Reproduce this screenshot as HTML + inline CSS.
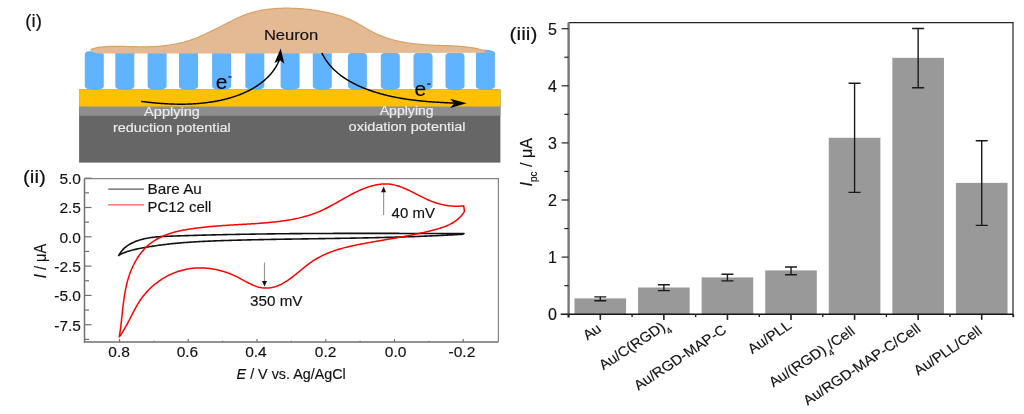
<!DOCTYPE html>
<html><head><meta charset="utf-8"><style>
html,body{margin:0;padding:0;background:#fff;width:1024px;height:414px;overflow:hidden}
svg{display:block;will-change:transform}
text{font-family:"Liberation Sans", sans-serif;stroke-width:0.15px}
</style></head><body>
<svg width="1024" height="414" viewBox="0 0 1024 414">
<rect x="79.1" y="89.6" width="421.3" height="73.0" fill="#666666"/>
<rect x="79.1" y="89.6" width="421.3" height="26.1" fill="#8e8e8e"/>
<rect x="79.1" y="89.6" width="421.3" height="16.9" fill="#ffc000"/>
<path d="M84.8,55.3 A4.0,4.0 0 0 1 88.8,51.3 L99.8,51.3 A4.0,4.0 0 0 1 103.8,55.3 L103.8,86.6 A9.5,3.3 0 0 1 84.8,86.6 Z" fill="#60b4ff"/>
<path d="M115.3,50.01 A0.01,0.01 0 0 1 115.31,50.0 L134.29000000000002,50.0 A0.01,0.01 0 0 1 134.3,50.01 L134.3,86.6 A9.5,3.3 0 0 1 115.3,86.6 Z" fill="#60b4ff"/>
<path d="M147.6,50.01 A0.01,0.01 0 0 1 147.60999999999999,50.0 L166.59,50.0 A0.01,0.01 0 0 1 166.6,50.01 L166.6,86.6 A9.5,3.3 0 0 1 147.6,86.6 Z" fill="#60b4ff"/>
<path d="M179,50.01 A0.01,0.01 0 0 1 179.01,50.0 L197.99,50.0 A0.01,0.01 0 0 1 198,50.01 L198,86.6 A9.5,3.3 0 0 1 179,86.6 Z" fill="#60b4ff"/>
<path d="M212.1,50.01 A0.01,0.01 0 0 1 212.10999999999999,50.0 L231.09,50.0 A0.01,0.01 0 0 1 231.1,50.01 L231.1,86.6 A9.5,3.3 0 0 1 212.1,86.6 Z" fill="#60b4ff"/>
<path d="M245.3,50.01 A0.01,0.01 0 0 1 245.31,50.0 L264.29,50.0 A0.01,0.01 0 0 1 264.3,50.01 L264.3,86.6 A9.5,3.3 0 0 1 245.3,86.6 Z" fill="#60b4ff"/>
<path d="M280.6,50.01 A0.01,0.01 0 0 1 280.61,50.0 L299.59000000000003,50.0 A0.01,0.01 0 0 1 299.6,50.01 L299.6,86.6 A9.5,3.3 0 0 1 280.6,86.6 Z" fill="#60b4ff"/>
<path d="M312.8,50.01 A0.01,0.01 0 0 1 312.81,50.0 L331.79,50.0 A0.01,0.01 0 0 1 331.8,50.01 L331.8,86.6 A9.5,3.3 0 0 1 312.8,86.6 Z" fill="#60b4ff"/>
<path d="M347.9,56.4 A3.5,3.5 0 0 1 351.4,52.9 L363.4,52.9 A3.5,3.5 0 0 1 366.9,56.4 L366.9,86.6 A9.5,3.3 0 0 1 347.9,86.6 Z" fill="#60b4ff"/>
<path d="M380.8,56.4 A3.5,3.5 0 0 1 384.3,52.9 L396.3,52.9 A3.5,3.5 0 0 1 399.8,56.4 L399.8,86.6 A9.5,3.3 0 0 1 380.8,86.6 Z" fill="#60b4ff"/>
<path d="M413.5,56.4 A3.5,3.5 0 0 1 417.0,52.9 L429.0,52.9 A3.5,3.5 0 0 1 432.5,56.4 L432.5,86.6 A9.5,3.3 0 0 1 413.5,86.6 Z" fill="#60b4ff"/>
<path d="M445.5,56.4 A3.5,3.5 0 0 1 449.0,52.9 L461.0,52.9 A3.5,3.5 0 0 1 464.5,56.4 L464.5,86.6 A9.5,3.3 0 0 1 445.5,86.6 Z" fill="#60b4ff"/>
<path d="M475.9,52.8 A9.5,3 0 0 1 494.9,52.8 L494.9,86.6 A9.5,3.3 0 0 1 475.9,86.6 Z" fill="#60b4ff"/>
<path d="M90.51,49.91 L91.76,49.34 L93.04,48.84 L94.33,48.40 L95.63,48.02 L96.95,47.70 L98.28,47.43 L99.62,47.21 L100.97,47.02 L102.32,46.87 L103.68,46.75 L105.05,46.65 L106.42,46.58 L107.79,46.52 L109.16,46.47 L110.54,46.43 L111.91,46.40 L113.28,46.38 L114.66,46.37 L116.03,46.36 L117.41,46.36 L118.79,46.37 L120.17,46.38 L121.54,46.40 L122.92,46.42 L124.30,46.45 L125.68,46.48 L127.06,46.51 L128.44,46.54 L129.82,46.57 L131.20,46.60 L132.58,46.63 L133.96,46.66 L135.34,46.69 L136.73,46.72 L138.11,46.74 L139.49,46.76 L140.87,46.77 L142.25,46.78 L143.64,46.78 L145.02,46.78 L146.40,46.77 L147.78,46.75 L149.16,46.72 L150.54,46.68 L151.93,46.64 L153.31,46.58 L154.69,46.51 L156.07,46.43 L157.45,46.34 L158.83,46.23 L160.21,46.12 L161.58,45.99 L162.96,45.85 L164.33,45.70 L165.70,45.54 L167.07,45.36 L168.44,45.17 L169.81,44.97 L171.17,44.76 L172.53,44.53 L173.89,44.29 L175.24,44.03 L176.59,43.76 L177.94,43.48 L179.28,43.19 L180.62,42.87 L181.96,42.55 L183.29,42.21 L184.61,41.85 L185.93,41.48 L187.25,41.10 L188.56,40.70 L189.87,40.28 L191.17,39.85 L192.47,39.41 L193.76,38.94 L195.04,38.46 L196.32,37.97 L197.59,37.46 L198.86,36.93 L200.12,36.39 L201.37,35.83 L202.62,35.27 L203.87,34.69 L205.11,34.10 L206.35,33.51 L207.59,32.91 L208.82,32.31 L210.06,31.71 L211.29,31.11 L212.53,30.50 L213.76,29.90 L215.00,29.30 L216.23,28.70 L217.47,28.09 L218.71,27.49 L219.94,26.88 L221.18,26.27 L222.41,25.65 L223.65,25.02 L224.88,24.39 L226.12,23.76 L227.35,23.12 L228.59,22.48 L229.83,21.85 L231.07,21.21 L232.31,20.58 L233.55,19.95 L234.80,19.34 L236.05,18.73 L237.30,18.13 L238.56,17.54 L239.82,16.97 L241.08,16.42 L242.35,15.88 L243.63,15.36 L244.91,14.86 L246.20,14.38 L247.49,13.92 L248.79,13.49 L250.09,13.07 L251.40,12.67 L252.72,12.30 L254.04,11.94 L255.36,11.60 L256.69,11.28 L258.02,10.98 L259.36,10.70 L260.70,10.43 L262.04,10.18 L263.39,9.95 L264.74,9.74 L266.10,9.54 L267.45,9.35 L268.81,9.18 L270.18,9.03 L271.54,8.89 L272.91,8.76 L274.28,8.65 L275.65,8.55 L277.03,8.47 L278.40,8.39 L279.78,8.33 L281.16,8.28 L282.54,8.25 L283.92,8.22 L285.30,8.20 L286.68,8.20 L288.06,8.20 L289.45,8.22 L290.83,8.24 L292.21,8.28 L293.59,8.32 L294.98,8.38 L296.36,8.44 L297.74,8.52 L299.12,8.60 L300.50,8.69 L301.88,8.80 L303.26,8.91 L304.64,9.03 L306.02,9.17 L307.39,9.31 L308.77,9.46 L310.14,9.63 L311.51,9.80 L312.88,9.98 L314.25,10.18 L315.62,10.38 L316.98,10.59 L318.34,10.81 L319.70,11.05 L321.06,11.29 L322.42,11.54 L323.77,11.80 L325.12,12.07 L326.47,12.36 L327.81,12.65 L329.15,12.95 L330.49,13.26 L331.83,13.58 L333.16,13.91 L334.49,14.26 L335.81,14.61 L337.13,14.98 L338.44,15.37 L339.75,15.77 L341.06,16.18 L342.35,16.61 L343.65,17.06 L344.93,17.52 L346.21,18.01 L347.48,18.52 L348.74,19.04 L350.00,19.59 L351.25,20.16 L352.48,20.75 L353.71,21.37 L354.94,22.00 L356.16,22.65 L357.37,23.32 L358.57,24.00 L359.78,24.69 L360.98,25.38 L362.18,26.08 L363.38,26.79 L364.57,27.49 L365.77,28.20 L366.97,28.90 L368.18,29.59 L369.39,30.27 L370.60,30.94 L371.81,31.59 L373.04,32.23 L374.27,32.85 L375.51,33.46 L376.75,34.04 L378.00,34.60 L379.26,35.14 L380.53,35.67 L381.80,36.17 L383.08,36.66 L384.36,37.13 L385.65,37.59 L386.95,38.03 L388.25,38.45 L389.56,38.85 L390.87,39.24 L392.19,39.62 L393.51,39.97 L394.84,40.32 L396.17,40.65 L397.51,40.96 L398.85,41.26 L400.20,41.55 L401.54,41.82 L402.90,42.08 L404.25,42.33 L405.61,42.57 L406.97,42.79 L408.34,43.00 L409.71,43.20 L411.08,43.39 L412.45,43.57 L413.82,43.74 L415.20,43.90 L416.58,44.05 L417.96,44.19 L419.34,44.32 L420.72,44.44 L422.11,44.56 L423.49,44.66 L424.88,44.76 L426.26,44.85 L427.65,44.93 L429.04,45.01 L430.42,45.08 L431.81,45.15 L433.20,45.20 L434.58,45.26 L435.97,45.31 L437.36,45.36 L438.74,45.40 L440.13,45.45 L441.51,45.49 L442.89,45.53 L444.27,45.57 L445.66,45.62 L447.04,45.67 L448.42,45.72 L449.79,45.77 L451.17,45.83 L452.55,45.89 L453.92,45.96 L455.29,46.03 L456.67,46.11 L458.03,46.20 L459.40,46.30 L460.77,46.41 L462.13,46.53 L463.50,46.66 L464.86,46.80 L466.21,46.95 L467.57,47.12 L468.92,47.30 L470.28,47.49 L471.63,47.70 L472.97,47.93 L474.32,48.17 L475.66,48.43 L477.00,48.71 L478.33,49.01 L479.65,49.35 L480.97,49.71 L482.28,50.11 L483.58,50.55 L484.86,51.02 L486.13,51.55 L487.39,52.13 C480,52.8 475,52.8 470,52.8 L335,52.9 L330,53.4 L100,53.5 C95,53.5 92,52 90.6,50.2 Z" fill="#e3ba93"/>
<path d="M90.51,49.91 L91.76,49.34 L93.04,48.84 L94.33,48.40 L95.63,48.02 L96.95,47.70 L98.28,47.43 L99.62,47.21 L100.97,47.02 L102.32,46.87 L103.68,46.75 L105.05,46.65 L106.42,46.58 L107.79,46.52 L109.16,46.47 L110.54,46.43 L111.91,46.40 L113.28,46.38 L114.66,46.37 L116.03,46.36 L117.41,46.36 L118.79,46.37 L120.17,46.38 L121.54,46.40 L122.92,46.42 L124.30,46.45 L125.68,46.48 L127.06,46.51 L128.44,46.54 L129.82,46.57 L131.20,46.60 L132.58,46.63 L133.96,46.66 L135.34,46.69 L136.73,46.72 L138.11,46.74 L139.49,46.76 L140.87,46.77 L142.25,46.78 L143.64,46.78 L145.02,46.78 L146.40,46.77 L147.78,46.75 L149.16,46.72 L150.54,46.68 L151.93,46.64 L153.31,46.58 L154.69,46.51 L156.07,46.43 L157.45,46.34 L158.83,46.23 L160.21,46.12 L161.58,45.99 L162.96,45.85 L164.33,45.70 L165.70,45.54 L167.07,45.36 L168.44,45.17 L169.81,44.97 L171.17,44.76 L172.53,44.53 L173.89,44.29 L175.24,44.03 L176.59,43.76 L177.94,43.48 L179.28,43.19 L180.62,42.87 L181.96,42.55 L183.29,42.21 L184.61,41.85 L185.93,41.48 L187.25,41.10 L188.56,40.70 L189.87,40.28 L191.17,39.85 L192.47,39.41 L193.76,38.94 L195.04,38.46 L196.32,37.97 L197.59,37.46 L198.86,36.93 L200.12,36.39 L201.37,35.83 L202.62,35.27 L203.87,34.69 L205.11,34.10 L206.35,33.51 L207.59,32.91 L208.82,32.31 L210.06,31.71 L211.29,31.11 L212.53,30.50 L213.76,29.90 L215.00,29.30 L216.23,28.70 L217.47,28.09 L218.71,27.49 L219.94,26.88 L221.18,26.27 L222.41,25.65 L223.65,25.02 L224.88,24.39 L226.12,23.76 L227.35,23.12 L228.59,22.48 L229.83,21.85 L231.07,21.21 L232.31,20.58 L233.55,19.95 L234.80,19.34 L236.05,18.73 L237.30,18.13 L238.56,17.54 L239.82,16.97 L241.08,16.42 L242.35,15.88 L243.63,15.36 L244.91,14.86 L246.20,14.38 L247.49,13.92 L248.79,13.49 L250.09,13.07 L251.40,12.67 L252.72,12.30 L254.04,11.94 L255.36,11.60 L256.69,11.28 L258.02,10.98 L259.36,10.70 L260.70,10.43 L262.04,10.18 L263.39,9.95 L264.74,9.74 L266.10,9.54 L267.45,9.35 L268.81,9.18 L270.18,9.03 L271.54,8.89 L272.91,8.76 L274.28,8.65 L275.65,8.55 L277.03,8.47 L278.40,8.39 L279.78,8.33 L281.16,8.28 L282.54,8.25 L283.92,8.22 L285.30,8.20 L286.68,8.20 L288.06,8.20 L289.45,8.22 L290.83,8.24 L292.21,8.28 L293.59,8.32 L294.98,8.38 L296.36,8.44 L297.74,8.52 L299.12,8.60 L300.50,8.69 L301.88,8.80 L303.26,8.91 L304.64,9.03 L306.02,9.17 L307.39,9.31 L308.77,9.46 L310.14,9.63 L311.51,9.80 L312.88,9.98 L314.25,10.18 L315.62,10.38 L316.98,10.59 L318.34,10.81 L319.70,11.05 L321.06,11.29 L322.42,11.54 L323.77,11.80 L325.12,12.07 L326.47,12.36 L327.81,12.65 L329.15,12.95 L330.49,13.26 L331.83,13.58 L333.16,13.91 L334.49,14.26 L335.81,14.61 L337.13,14.98 L338.44,15.37 L339.75,15.77 L341.06,16.18 L342.35,16.61 L343.65,17.06 L344.93,17.52 L346.21,18.01 L347.48,18.52 L348.74,19.04 L350.00,19.59 L351.25,20.16 L352.48,20.75 L353.71,21.37 L354.94,22.00 L356.16,22.65 L357.37,23.32 L358.57,24.00 L359.78,24.69 L360.98,25.38 L362.18,26.08 L363.38,26.79 L364.57,27.49 L365.77,28.20 L366.97,28.90 L368.18,29.59 L369.39,30.27 L370.60,30.94 L371.81,31.59 L373.04,32.23 L374.27,32.85 L375.51,33.46 L376.75,34.04 L378.00,34.60 L379.26,35.14 L380.53,35.67 L381.80,36.17 L383.08,36.66 L384.36,37.13 L385.65,37.59 L386.95,38.03 L388.25,38.45 L389.56,38.85 L390.87,39.24 L392.19,39.62 L393.51,39.97 L394.84,40.32 L396.17,40.65 L397.51,40.96 L398.85,41.26 L400.20,41.55 L401.54,41.82 L402.90,42.08 L404.25,42.33 L405.61,42.57 L406.97,42.79 L408.34,43.00 L409.71,43.20 L411.08,43.39 L412.45,43.57 L413.82,43.74 L415.20,43.90 L416.58,44.05 L417.96,44.19 L419.34,44.32 L420.72,44.44 L422.11,44.56 L423.49,44.66 L424.88,44.76 L426.26,44.85 L427.65,44.93 L429.04,45.01 L430.42,45.08 L431.81,45.15 L433.20,45.20 L434.58,45.26 L435.97,45.31 L437.36,45.36 L438.74,45.40 L440.13,45.45 L441.51,45.49 L442.89,45.53 L444.27,45.57 L445.66,45.62 L447.04,45.67 L448.42,45.72 L449.79,45.77 L451.17,45.83 L452.55,45.89 L453.92,45.96 L455.29,46.03 L456.67,46.11 L458.03,46.20 L459.40,46.30 L460.77,46.41 L462.13,46.53 L463.50,46.66 L464.86,46.80 L466.21,46.95 L467.57,47.12 L468.92,47.30 L470.28,47.49 L471.63,47.70 L472.97,47.93 L474.32,48.17 L475.66,48.43 L477.00,48.71 L478.33,49.01 L479.65,49.35 L480.97,49.71 L482.28,50.11 L483.58,50.55 L484.86,51.02 L486.13,51.55 L487.39,52.13" fill="none" stroke="#d9a166" stroke-width="1.2"/>
<path d="M141.21,101.41 L141.99,101.51 L142.77,101.61 L143.55,101.70 L144.34,101.80 L145.12,101.89 L145.91,101.98 L146.69,102.07 L147.48,102.16 L148.26,102.25 L149.05,102.34 L149.84,102.42 L150.62,102.50 L151.41,102.58 L152.20,102.66 L152.99,102.74 L153.78,102.82 L154.57,102.89 L155.36,102.96 L156.15,103.03 L156.94,103.10 L157.73,103.17 L158.52,103.24 L159.31,103.30 L160.11,103.36 L160.90,103.42 L161.69,103.48 L162.48,103.53 L163.28,103.59 L164.07,103.64 L164.86,103.69 L165.66,103.73 L166.45,103.78 L167.25,103.82 L168.04,103.86 L168.84,103.90 L169.63,103.94 L170.42,103.97 L171.22,104.00 L172.02,104.03 L172.81,104.06 L173.61,104.08 L174.40,104.10 L175.20,104.12 L175.99,104.14 L176.79,104.15 L177.58,104.17 L178.38,104.18 L179.17,104.18 L179.97,104.19 L180.77,104.19 L181.56,104.19 L182.36,104.19 L183.15,104.18 L183.95,104.17 L184.74,104.16 L185.54,104.14 L186.33,104.13 L187.13,104.11 L187.92,104.08 L188.72,104.06 L189.51,104.03 L190.31,104.00 L191.10,103.96 L191.89,103.92 L192.69,103.88 L193.48,103.84 L194.27,103.79 L195.07,103.74 L195.86,103.69 L196.65,103.63 L197.44,103.57 L198.23,103.51 L199.03,103.45 L199.82,103.38 L200.61,103.30 L201.40,103.23 L202.19,103.15 L202.98,103.07 L203.77,102.98 L204.55,102.89 L205.34,102.80 L206.13,102.70 L206.92,102.60 L207.71,102.50 L208.49,102.39 L209.28,102.28 L210.06,102.17 L210.85,102.05 L211.63,101.93 L212.42,101.80 L213.20,101.67 L213.98,101.54 L214.76,101.41 L215.54,101.27 L216.33,101.12 L217.11,100.97 L217.88,100.82 L218.66,100.67 L219.44,100.51 L220.22,100.34 L221.00,100.18 L221.77,100.00 L222.55,99.83 L223.32,99.65 L224.10,99.46 L224.87,99.28 L225.64,99.08 L226.41,98.89 L227.18,98.69 L227.95,98.48 L228.72,98.27 L229.48,98.05 L230.25,97.83 L231.01,97.61 L231.77,97.38 L232.53,97.15 L233.29,96.91 L234.04,96.66 L234.80,96.41 L235.55,96.16 L236.30,95.90 L237.05,95.64 L237.80,95.37 L238.55,95.09 L239.29,94.81 L240.03,94.52 L240.77,94.23 L241.51,93.93 L242.24,93.63 L242.97,93.32 L243.70,93.01 L244.43,92.69 L245.15,92.36 L245.88,92.03 L246.60,91.69 L247.31,91.35 L248.03,91.00 L248.74,90.64 L249.45,90.28 L250.15,89.91 L250.85,89.53 L251.55,89.15 L252.25,88.76 L252.94,88.37 L253.63,87.96 L254.32,87.56 L255.00,87.14 L255.67,86.72 L256.35,86.29 L257.02,85.86 L257.68,85.42 L258.34,84.97 L258.99,84.51 L259.64,84.05 L260.29,83.58 L260.92,83.11 L261.56,82.63 L262.18,82.14 L262.80,81.65 L263.42,81.14 L264.03,80.63 L264.63,80.12 L265.22,79.60 L265.81,79.07 L266.39,78.53 L266.96,77.99 L267.53,77.44 L268.09,76.88 L268.64,76.32 L269.18,75.74 L269.71,75.17 L270.24,74.58 L270.75,73.99 L271.26,73.39 L271.76,72.78 L272.25,72.17 L272.73,71.54 L273.21,70.92 L273.67,70.28 L274.12,69.64 L274.56,68.99 L274.99,68.33 L275.42,67.66 L275.83,66.99 L276.23,66.31 L276.62,65.62 L277.00,64.93 L277.36,64.23 L277.72,63.52 L278.06,62.80 L278.40,62.08 L278.72,61.34 L279.03,60.60 L279.32,59.86 L279.61,59.10 L279.88,58.34 L280.14,57.57 L280.38,56.79 L280.62,56.01" fill="none" stroke="#000" stroke-width="1.45"/>
<path d="M280.7,48.4 L284.4,63.7 L280,60.2 L274.5,62.9 Z" fill="#000"/>
<path d="M321.86,52.95 L322.21,53.66 L322.56,54.36 L322.92,55.05 L323.29,55.73 L323.67,56.40 L324.06,57.07 L324.46,57.73 L324.86,58.38 L325.27,59.03 L325.69,59.67 L326.11,60.30 L326.54,60.93 L326.98,61.55 L327.43,62.16 L327.88,62.76 L328.35,63.36 L328.81,63.95 L329.29,64.53 L329.77,65.11 L330.26,65.68 L330.75,66.25 L331.25,66.81 L331.76,67.36 L332.27,67.90 L332.79,68.44 L333.32,68.97 L333.85,69.50 L334.38,70.02 L334.93,70.53 L335.48,71.04 L336.03,71.54 L336.59,72.04 L337.16,72.53 L337.73,73.01 L338.30,73.49 L338.88,73.96 L339.47,74.43 L340.06,74.89 L340.65,75.35 L341.25,75.80 L341.86,76.24 L342.47,76.68 L343.08,77.11 L343.70,77.54 L344.32,77.96 L344.95,78.38 L345.58,78.79 L346.22,79.20 L346.86,79.60 L347.50,79.99 L348.15,80.38 L348.80,80.77 L349.45,81.15 L350.11,81.53 L350.77,81.90 L351.43,82.26 L352.10,82.62 L352.77,82.98 L353.44,83.33 L354.12,83.68 L354.80,84.02 L355.48,84.36 L356.16,84.70 L356.85,85.02 L357.54,85.35 L358.23,85.67 L358.93,85.99 L359.62,86.30 L360.32,86.61 L361.02,86.91 L361.73,87.21 L362.43,87.50 L363.14,87.79 L363.84,88.08 L364.55,88.37 L365.26,88.65 L365.97,88.92 L366.69,89.19 L367.40,89.46 L368.12,89.73 L368.83,89.99 L369.55,90.24 L370.27,90.50 L370.99,90.75 L371.71,90.99 L372.43,91.24 L373.15,91.48 L373.88,91.71 L374.60,91.95 L375.33,92.18 L376.05,92.40 L376.78,92.63 L377.50,92.84 L378.23,93.06 L378.96,93.27 L379.69,93.48 L380.42,93.69 L381.15,93.89 L381.89,94.10 L382.62,94.29 L383.35,94.49 L384.09,94.68 L384.82,94.87 L385.56,95.05 L386.29,95.23 L387.03,95.41 L387.77,95.59 L388.51,95.76 L389.25,95.93 L389.99,96.10 L390.73,96.27 L391.47,96.43 L392.21,96.59 L392.95,96.75 L393.69,96.90 L394.44,97.05 L395.18,97.20 L395.93,97.35 L396.67,97.49 L397.42,97.63 L398.16,97.77 L398.91,97.91 L399.66,98.04 L400.40,98.17 L401.15,98.30 L401.90,98.43 L402.65,98.56 L403.40,98.68 L404.15,98.80 L404.90,98.92 L405.65,99.03 L406.40,99.14 L407.15,99.26 L407.90,99.36 L408.65,99.47 L409.41,99.58 L410.16,99.68 L410.91,99.78 L411.66,99.88 L412.42,99.97 L413.17,100.07 L413.92,100.16 L414.68,100.25 L415.43,100.34 L416.19,100.43 L416.94,100.52 L417.70,100.60 L418.45,100.68 L419.21,100.76 L419.96,100.84 L420.72,100.92 L421.48,100.99 L422.23,101.07 L422.99,101.14 L423.74,101.21 L424.50,101.28 L425.26,101.34 L426.01,101.41 L426.77,101.48 L427.53,101.54 L428.28,101.60 L429.04,101.66 L429.79,101.72 L430.55,101.78 L431.31,101.84 L432.06,101.89 L432.82,101.94 L433.58,102.00 L434.33,102.05 L435.09,102.10 L435.85,102.15 L436.60,102.20 L437.36,102.25 L438.11,102.29 L438.87,102.34 L439.62,102.38 L440.38,102.43 L441.14,102.47 L441.89,102.51 L442.65,102.55 L443.40,102.59 L444.15,102.63 L444.91,102.67 L445.66,102.71 L446.42,102.74 L447.17,102.78 L447.92,102.82 L448.68,102.85 L449.43,102.89 L450.18,102.92 L450.93,102.95 L451.68,102.99 L452.44,103.02 L453.19,103.05 L453.94,103.08 L454.69,103.11 L455.44,103.15 L456.19,103.18 L456.94,103.21" fill="none" stroke="#000" stroke-width="1.45"/>
<path d="M466.6,103.3 L450.2,108 L454.3,103.3 L450.2,98.7 Z" fill="#000"/>
<text x="25.3" y="27.2" font-size="18" text-anchor="start" fill="#111" stroke="#111" textLength="16.6" lengthAdjust="spacingAndGlyphs"  style="">(i)</text>
<text x="263.9" y="39.9" font-size="15" text-anchor="start" fill="#111" stroke="#111" textLength="54.4" lengthAdjust="spacingAndGlyphs"  style="">Neuron</text>
<text x="215.8" y="89.0" font-size="21" text-anchor="start" fill="#000" stroke="#000"  style="">e</text>
<rect x="228.4" y="76.4" width="3.3" height="1.1" fill="#000"/>
<text x="414.4" y="96.0" font-size="21" text-anchor="start" fill="#000" stroke="#000"  style="">e</text>
<rect x="427.2" y="83.5" width="3.3" height="1.1" fill="#000"/>
<text x="144.1" y="115.5" font-size="12.5" text-anchor="start" fill="#ececec" stroke="#ececec" textLength="55.8" lengthAdjust="spacingAndGlyphs"  style="">Applying</text>
<text x="113" y="132.2" font-size="12.5" text-anchor="start" fill="#ececec" stroke="#ececec" textLength="117.8" lengthAdjust="spacingAndGlyphs"  style="">reduction potential</text>
<text x="379.7" y="114.8" font-size="12.5" text-anchor="start" fill="#ececec" stroke="#ececec" textLength="54" lengthAdjust="spacingAndGlyphs"  style="">Applying</text>
<text x="348.6" y="131.4" font-size="12.5" text-anchor="start" fill="#ececec" stroke="#ececec" textLength="117" lengthAdjust="spacingAndGlyphs"  style="">oxidation potential</text>
<path d="M84.5,178.6 H498.4 V342.0" fill="none" stroke="#858585" stroke-width="1.2"/>
<path d="M84.5,178.6 V342.0 H498.4" fill="none" stroke="#707070" stroke-width="1.5"/>
<line x1="84.5" y1="178.20" x2="91.5" y2="178.20" stroke="#707070" stroke-width="1.2"/>
<text x="81.0" y="184.00" font-size="15.5" text-anchor="end" fill="#111" stroke="#111"  style="">5.0</text>
<line x1="84.5" y1="192.85" x2="89.0" y2="192.85" stroke="#707070" stroke-width="1.2"/>
<line x1="84.5" y1="207.50" x2="91.5" y2="207.50" stroke="#707070" stroke-width="1.2"/>
<text x="81.0" y="213.30" font-size="15.5" text-anchor="end" fill="#111" stroke="#111"  style="">2.5</text>
<line x1="84.5" y1="222.15" x2="89.0" y2="222.15" stroke="#707070" stroke-width="1.2"/>
<line x1="84.5" y1="236.80" x2="91.5" y2="236.80" stroke="#707070" stroke-width="1.2"/>
<text x="81.0" y="242.60" font-size="15.5" text-anchor="end" fill="#111" stroke="#111"  style="">0.0</text>
<line x1="84.5" y1="251.45" x2="89.0" y2="251.45" stroke="#707070" stroke-width="1.2"/>
<line x1="84.5" y1="266.10" x2="91.5" y2="266.10" stroke="#707070" stroke-width="1.2"/>
<text x="81.0" y="271.90" font-size="15.5" text-anchor="end" fill="#111" stroke="#111"  style="">-2.5</text>
<line x1="84.5" y1="280.75" x2="89.0" y2="280.75" stroke="#707070" stroke-width="1.2"/>
<line x1="84.5" y1="295.40" x2="91.5" y2="295.40" stroke="#707070" stroke-width="1.2"/>
<text x="81.0" y="301.20" font-size="15.5" text-anchor="end" fill="#111" stroke="#111"  style="">-5.0</text>
<line x1="84.5" y1="310.05" x2="89.0" y2="310.05" stroke="#707070" stroke-width="1.2"/>
<line x1="84.5" y1="324.70" x2="91.5" y2="324.70" stroke="#707070" stroke-width="1.2"/>
<text x="81.0" y="330.50" font-size="15.5" text-anchor="end" fill="#111" stroke="#111"  style="">-7.5</text>
<line x1="84.5" y1="339.35" x2="89.0" y2="339.35" stroke="#707070" stroke-width="1.2"/>
<line x1="119.54" y1="342.0" x2="119.54" y2="339.0" stroke="#707070" stroke-width="1.2"/>
<text x="119.14" y="356.6" font-size="15.5" text-anchor="middle" fill="#111" stroke="#111"  style="">0.8</text>
<line x1="153.91" y1="342.0" x2="153.91" y2="340.7" stroke="#707070" stroke-width="1.2"/>
<line x1="188.28" y1="342.0" x2="188.28" y2="339.0" stroke="#707070" stroke-width="1.2"/>
<text x="187.48" y="356.6" font-size="15.5" text-anchor="middle" fill="#111" stroke="#111"  style="">0.6</text>
<line x1="222.65" y1="342.0" x2="222.65" y2="340.7" stroke="#707070" stroke-width="1.2"/>
<line x1="257.02" y1="342.0" x2="257.02" y2="339.0" stroke="#707070" stroke-width="1.2"/>
<text x="255.92" y="356.6" font-size="15.5" text-anchor="middle" fill="#111" stroke="#111"  style="">0.4</text>
<line x1="291.39" y1="342.0" x2="291.39" y2="340.7" stroke="#707070" stroke-width="1.2"/>
<line x1="325.76" y1="342.0" x2="325.76" y2="339.0" stroke="#707070" stroke-width="1.2"/>
<text x="325.56" y="356.6" font-size="15.5" text-anchor="middle" fill="#111" stroke="#111"  style="">0.2</text>
<line x1="360.13" y1="342.0" x2="360.13" y2="340.7" stroke="#707070" stroke-width="1.2"/>
<line x1="394.50" y1="342.0" x2="394.50" y2="339.0" stroke="#707070" stroke-width="1.2"/>
<text x="395.60" y="356.6" font-size="15.5" text-anchor="middle" fill="#111" stroke="#111"  style="">0.0</text>
<line x1="428.87" y1="342.0" x2="428.87" y2="340.7" stroke="#707070" stroke-width="1.2"/>
<line x1="463.24" y1="342.0" x2="463.24" y2="339.0" stroke="#707070" stroke-width="1.2"/>
<text x="461.94" y="356.6" font-size="15.5" text-anchor="middle" fill="#111" stroke="#111"  style="">-0.2</text>
<text x="236.6" y="378.7" font-size="14.3" fill="#111" stroke="#111" textLength="109.2" lengthAdjust="spacingAndGlyphs"><tspan font-style="italic">E</tspan> / V vs. Ag/AgCl</text>
<text transform="translate(46.4,261) rotate(-90)" x="0" y="0" font-size="16.5" fill="#111" stroke="#111" text-anchor="middle" textLength="34.5" lengthAdjust="spacingAndGlyphs"><tspan font-style="italic">I</tspan> / μA</text>
<text x="22.9" y="183.0" font-size="18" text-anchor="start" fill="#111" stroke="#111" textLength="23.0" lengthAdjust="spacingAndGlyphs"  style="">(ii)</text>
<line x1="108.2" y1="189.1" x2="144" y2="189.1" stroke="#333" stroke-width="1"/>
<line x1="108.2" y1="204.9" x2="144" y2="204.9" stroke="#ff3030" stroke-width="1"/>
<text x="147.6" y="193.5" font-size="14.5" text-anchor="start" fill="#111" stroke="#111" textLength="54.2" lengthAdjust="spacingAndGlyphs"  style="">Bare Au</text>
<text x="147.6" y="211.7" font-size="14.5" text-anchor="start" fill="#111" stroke="#111" textLength="63.8" lengthAdjust="spacingAndGlyphs"  style="">PC12 cell</text>
<path d="M118.46,256.03 L119.18,254.66 L119.96,253.37 L120.79,252.15 L121.67,251.00 L122.61,249.92 L123.59,248.90 L124.61,247.94 L125.67,247.04 L126.77,246.20 L127.90,245.41 L129.06,244.67 L130.24,243.97 L131.45,243.32 L132.68,242.72 L133.93,242.15 L135.19,241.61 L136.46,241.12 L137.74,240.65 L139.04,240.22 L140.35,239.81 L141.67,239.44 L143.00,239.10 L144.34,238.78 L145.68,238.49 L147.04,238.22 L148.41,237.97 L149.78,237.75 L151.16,237.55 L152.55,237.36 L153.94,237.20 L155.34,237.05 L156.74,236.91 L158.15,236.79 L159.57,236.69 L160.98,236.59 L162.40,236.50 L163.83,236.43 L165.25,236.36 L166.68,236.30 L168.11,236.24 L169.54,236.19 L170.97,236.14 L172.40,236.09 L173.83,236.04 L175.26,235.99 L176.69,235.94 L178.12,235.89 L179.55,235.85 L180.98,235.80 L182.41,235.75 L183.83,235.71 L185.26,235.66 L186.69,235.62 L188.11,235.58 L189.54,235.53 L190.96,235.49 L192.39,235.45 L193.81,235.41 L195.24,235.37 L196.66,235.33 L198.09,235.29 L199.51,235.25 L200.93,235.21 L202.36,235.17 L203.78,235.13 L205.20,235.10 L206.62,235.06 L208.05,235.02 L209.47,234.99 L210.89,234.95 L212.31,234.92 L213.73,234.88 L215.15,234.85 L216.57,234.82 L217.99,234.78 L219.41,234.75 L220.83,234.72 L222.25,234.69 L223.66,234.66 L225.08,234.63 L226.50,234.60 L227.92,234.57 L229.34,234.54 L230.75,234.51 L232.17,234.48 L233.59,234.45 L235.00,234.43 L236.42,234.40 L237.84,234.37 L239.25,234.35 L240.67,234.32 L242.08,234.30 L243.50,234.27 L244.91,234.25 L246.33,234.22 L247.74,234.20 L249.16,234.18 L250.57,234.15 L251.99,234.13 L253.40,234.11 L254.81,234.09 L256.23,234.07 L257.64,234.05 L259.05,234.03 L260.47,234.01 L261.88,233.99 L263.29,233.97 L264.70,233.95 L266.12,233.93 L267.53,233.91 L268.94,233.89 L270.35,233.88 L271.76,233.86 L273.18,233.84 L274.59,233.83 L276.00,233.81 L277.41,233.80 L278.82,233.78 L280.23,233.77 L281.64,233.75 L283.05,233.74 L284.46,233.72 L285.87,233.71 L287.28,233.70 L288.69,233.68 L290.10,233.67 L291.52,233.66 L292.93,233.65 L294.33,233.63 L295.74,233.62 L297.15,233.61 L298.56,233.60 L299.97,233.59 L301.38,233.58 L302.79,233.57 L304.20,233.56 L305.61,233.55 L307.02,233.54 L308.43,233.54 L309.84,233.53 L311.25,233.52 L312.66,233.51 L314.07,233.50 L315.48,233.50 L316.89,233.49 L318.29,233.48 L319.70,233.48 L321.11,233.47 L322.52,233.46 L323.93,233.46 L325.34,233.45 L326.75,233.45 L328.16,233.44 L329.57,233.44 L330.98,233.43 L332.38,233.43 L333.79,233.42 L335.20,233.42 L336.61,233.42 L338.02,233.41 L339.43,233.41 L340.84,233.41 L342.25,233.40 L343.66,233.40 L345.07,233.40 L346.48,233.40 L347.89,233.39 L349.30,233.39 L350.70,233.39 L352.11,233.39 L353.52,233.39 L354.93,233.39 L356.34,233.39 L357.75,233.39 L359.16,233.38 L360.57,233.38 L361.98,233.38 L363.39,233.38 L364.80,233.38 L366.21,233.38 L367.63,233.38 L369.04,233.38 L370.45,233.39 L371.86,233.39 L373.27,233.39 L374.68,233.39 L376.09,233.39 L377.50,233.39 L378.91,233.39 L380.33,233.39 L381.74,233.39 L383.15,233.40 L384.56,233.40 L385.97,233.40 L387.39,233.40 L388.80,233.40 L390.21,233.41 L391.62,233.41 L393.04,233.41 L394.45,233.41 L395.86,233.42 L397.28,233.42 L398.69,233.42 L400.11,233.43 L401.52,233.43 L402.93,233.43 L404.35,233.43 L405.76,233.44 L407.18,233.44 L408.59,233.44 L410.01,233.45 L411.42,233.45 L412.84,233.45 L414.26,233.46 L415.67,233.46 L417.09,233.47 L418.51,233.47 L419.92,233.47 L421.34,233.48 L422.76,233.48 L424.18,233.48 L425.59,233.49 L427.01,233.49 L428.43,233.50 L429.85,233.50 L431.27,233.50 L432.69,233.51 L434.11,233.51 L435.53,233.51 L436.95,233.52 L438.37,233.52 L439.79,233.53 L441.21,233.53 L442.63,233.53 L444.05,233.54 L445.47,233.54 L446.90,233.55 L448.32,233.55 L449.74,233.55 L451.16,233.56 L452.59,233.56 L454.01,233.56 L455.44,233.57 L456.86,233.57 L458.29,233.57 L459.71,233.58 L461.14,233.58 L462.56,233.58 L463.99,233.59 L462.58,234.28 L461.19,234.37 L459.79,234.45 L458.40,234.53 L457.00,234.61 L455.61,234.69 L454.21,234.77 L452.82,234.84 L451.43,234.92 L450.03,234.99 L448.64,235.07 L447.24,235.14 L445.85,235.21 L444.45,235.28 L443.06,235.35 L441.66,235.42 L440.27,235.48 L438.87,235.55 L437.48,235.61 L436.08,235.68 L434.69,235.74 L433.29,235.80 L431.90,235.86 L430.51,235.92 L429.11,235.98 L427.72,236.04 L426.32,236.10 L424.93,236.16 L423.53,236.21 L422.14,236.27 L420.75,236.32 L419.35,236.37 L417.96,236.43 L416.56,236.48 L415.17,236.53 L413.77,236.58 L412.38,236.63 L410.99,236.67 L409.59,236.72 L408.20,236.77 L406.80,236.81 L405.41,236.86 L404.01,236.90 L402.62,236.95 L401.23,236.99 L399.83,237.03 L398.44,237.07 L397.04,237.11 L395.65,237.15 L394.25,237.19 L392.86,237.23 L391.47,237.27 L390.07,237.31 L388.68,237.34 L387.28,237.38 L385.89,237.42 L384.50,237.45 L383.10,237.49 L381.71,237.52 L380.31,237.55 L378.92,237.59 L377.53,237.62 L376.13,237.65 L374.74,237.68 L373.34,237.71 L371.95,237.75 L370.55,237.78 L369.16,237.80 L367.77,237.83 L366.37,237.86 L364.98,237.89 L363.58,237.92 L362.19,237.95 L360.79,237.97 L359.40,238.00 L358.01,238.03 L356.61,238.05 L355.22,238.08 L353.82,238.10 L352.43,238.13 L351.03,238.15 L349.64,238.18 L348.25,238.20 L346.85,238.23 L345.46,238.25 L344.06,238.27 L342.67,238.30 L341.27,238.32 L339.88,238.34 L338.49,238.36 L337.09,238.39 L335.70,238.41 L334.30,238.43 L332.91,238.45 L331.51,238.47 L330.12,238.50 L328.72,238.52 L327.33,238.54 L325.93,238.56 L324.54,238.58 L323.14,238.60 L321.75,238.62 L320.35,238.64 L318.96,238.66 L317.57,238.68 L316.17,238.70 L314.78,238.73 L313.38,238.75 L311.99,238.77 L310.59,238.79 L309.20,238.81 L307.80,238.83 L306.41,238.85 L305.01,238.87 L303.61,238.89 L302.22,238.91 L300.82,238.93 L299.43,238.95 L298.03,238.98 L296.64,239.00 L295.24,239.02 L293.85,239.04 L292.45,239.06 L291.06,239.08 L289.66,239.11 L288.27,239.13 L286.87,239.15 L285.47,239.17 L284.08,239.20 L282.68,239.22 L281.29,239.24 L279.89,239.27 L278.50,239.29 L277.10,239.32 L275.70,239.34 L274.31,239.37 L272.91,239.39 L271.52,239.42 L270.12,239.44 L268.72,239.47 L267.33,239.50 L265.93,239.52 L264.53,239.55 L263.14,239.58 L261.74,239.61 L260.34,239.64 L258.95,239.66 L257.55,239.69 L256.15,239.72 L254.76,239.75 L253.36,239.79 L251.96,239.82 L250.57,239.85 L249.17,239.88 L247.77,239.91 L246.38,239.95 L244.98,239.98 L243.58,240.02 L242.18,240.05 L240.79,240.09 L239.39,240.12 L237.99,240.16 L236.59,240.20 L235.20,240.24 L233.80,240.27 L232.40,240.31 L231.00,240.35 L229.61,240.39 L228.21,240.44 L226.81,240.48 L225.41,240.52 L224.01,240.57 L222.62,240.61 L221.22,240.66 L219.82,240.70 L218.42,240.75 L217.02,240.80 L215.63,240.85 L214.23,240.91 L212.83,240.96 L211.43,241.02 L210.04,241.08 L208.64,241.14 L207.24,241.20 L205.85,241.26 L204.45,241.33 L203.05,241.40 L201.66,241.47 L200.26,241.54 L198.87,241.62 L197.47,241.70 L196.08,241.78 L194.68,241.87 L193.29,241.95 L191.90,242.04 L190.50,242.14 L189.11,242.23 L187.72,242.33 L186.32,242.44 L184.93,242.54 L183.54,242.65 L182.15,242.76 L180.76,242.88 L179.37,243.00 L177.98,243.13 L176.59,243.26 L175.21,243.39 L173.82,243.53 L172.43,243.67 L171.04,243.81 L169.66,243.96 L168.27,244.12 L166.89,244.27 L165.51,244.44 L164.12,244.61 L162.74,244.78 L161.36,244.96 L159.98,245.14 L158.60,245.33 L157.22,245.52 L155.84,245.72 L154.46,245.92 L153.09,246.13 L151.71,246.34 L150.34,246.56 L148.96,246.79 L147.59,247.02 L146.22,247.26 L144.85,247.50 L143.48,247.75 L142.11,248.01 L140.74,248.27 L139.37,248.54 L138.01,248.81 L136.64,249.10 L135.29,249.40 L133.93,249.72 L132.59,250.05 L131.25,250.40 L129.92,250.77 L128.60,251.17 L127.29,251.59 L126.00,252.03 L124.71,252.51 L123.44,253.01 L122.18,253.55 L120.94,254.12 L119.72,254.73 L118.52,255.38" fill="none" stroke="#111" stroke-width="1.6" stroke-linejoin="round"/>
<path d="M119.16,337.27 L119.35,336.23 L119.52,335.19 L119.69,334.15 L119.86,333.10 L120.02,332.05 L120.17,331.00 L120.32,329.95 L120.47,328.89 L120.61,327.83 L120.74,326.77 L120.88,325.71 L121.01,324.65 L121.13,323.58 L121.26,322.51 L121.38,321.44 L121.50,320.37 L121.61,319.30 L121.73,318.23 L121.85,317.16 L121.96,316.08 L122.07,315.01 L122.19,313.93 L122.30,312.86 L122.42,311.78 L122.54,310.70 L122.65,309.62 L122.77,308.55 L122.90,307.47 L123.02,306.39 L123.15,305.31 L123.28,304.24 L123.41,303.16 L123.55,302.08 L123.69,301.01 L123.83,299.93 L123.98,298.85 L124.14,297.78 L124.30,296.71 L124.47,295.64 L124.64,294.57 L124.82,293.50 L125.00,292.43 L125.19,291.36 L125.40,290.30 L125.60,289.23 L125.82,288.17 L126.04,287.11 L126.28,286.05 L126.52,285.00 L126.77,283.95 L127.03,282.90 L127.30,281.85 L127.59,280.80 L127.88,279.76 L128.18,278.72 L128.50,277.68 L128.82,276.65 L129.16,275.61 L129.51,274.59 L129.88,273.56 L130.26,272.54 L130.65,271.52 L131.05,270.51 L131.47,269.50 L131.90,268.49 L132.34,267.50 L132.80,266.50 L133.27,265.52 L133.75,264.54 L134.25,263.57 L134.76,262.60 L135.29,261.65 L135.82,260.70 L136.37,259.76 L136.94,258.83 L137.51,257.91 L138.10,257.00 L138.71,256.11 L139.32,255.22 L139.95,254.35 L140.60,253.49 L141.25,252.64 L141.92,251.80 L142.60,250.98 L143.30,250.18 L144.01,249.38 L144.73,248.61 L145.47,247.85 L146.22,247.10 L146.98,246.37 L147.76,245.66 L148.54,244.96 L149.35,244.29 L150.16,243.63 L150.99,242.99 L151.83,242.37 L152.69,241.76 L153.55,241.18 L154.43,240.61 L155.32,240.05 L156.22,239.52 L157.13,239.00 L158.05,238.49 L158.98,238.01 L159.93,237.53 L160.88,237.07 L161.84,236.63 L162.81,236.20 L163.79,235.78 L164.77,235.38 L165.77,234.99 L166.77,234.62 L167.78,234.25 L168.80,233.90 L169.82,233.56 L170.85,233.24 L171.89,232.92 L172.93,232.62 L173.98,232.32 L175.03,232.04 L176.09,231.76 L177.15,231.50 L178.22,231.25 L179.29,231.00 L180.37,230.76 L181.44,230.54 L182.52,230.32 L183.61,230.10 L184.69,229.90 L185.78,229.70 L186.87,229.51 L187.96,229.33 L189.05,229.15 L190.14,228.98 L191.24,228.81 L192.33,228.65 L193.42,228.50 L194.52,228.34 L195.61,228.20 L196.70,228.05 L197.79,227.91 L198.88,227.78 L199.96,227.65 L201.05,227.52 L202.14,227.40 L203.22,227.28 L204.31,227.16 L205.39,227.05 L206.47,226.94 L207.56,226.83 L208.64,226.72 L209.72,226.62 L210.80,226.52 L211.88,226.43 L212.96,226.34 L214.03,226.25 L215.11,226.16 L216.19,226.07 L217.27,225.99 L218.34,225.90 L219.42,225.83 L220.49,225.75 L221.56,225.67 L222.64,225.60 L223.71,225.52 L224.78,225.45 L225.86,225.38 L226.93,225.31 L228.00,225.25 L229.07,225.18 L230.14,225.11 L231.21,225.05 L232.28,224.99 L233.35,224.92 L234.42,224.86 L235.49,224.80 L236.56,224.74 L237.63,224.67 L238.69,224.61 L239.76,224.55 L240.83,224.49 L241.90,224.43 L242.96,224.37 L244.03,224.30 L245.10,224.24 L246.17,224.18 L247.23,224.11 L248.30,224.05 L249.37,223.98 L250.43,223.92 L251.50,223.85 L252.57,223.78 L253.63,223.71 L254.70,223.64 L255.77,223.57 L256.83,223.49 L257.90,223.42 L258.97,223.34 L260.04,223.26 L261.10,223.18 L262.17,223.10 L263.24,223.01 L264.31,222.92 L265.38,222.83 L266.44,222.74 L267.51,222.64 L268.58,222.54 L269.65,222.44 L270.72,222.34 L271.79,222.23 L272.86,222.12 L273.93,222.01 L275.00,221.89 L276.07,221.77 L277.14,221.65 L278.22,221.52 L279.29,221.39 L280.36,221.25 L281.43,221.11 L282.50,220.97 L283.57,220.82 L284.64,220.66 L285.71,220.50 L286.78,220.34 L287.84,220.17 L288.91,219.99 L289.97,219.81 L291.04,219.62 L292.10,219.43 L293.16,219.23 L294.22,219.02 L295.28,218.81 L296.34,218.59 L297.39,218.36 L298.44,218.13 L299.49,217.89 L300.54,217.64 L301.59,217.38 L302.64,217.12 L303.68,216.84 L304.72,216.56 L305.75,216.27 L306.79,215.98 L307.82,215.67 L308.85,215.35 L309.88,215.03 L310.90,214.69 L311.92,214.35 L312.93,214.00 L313.95,213.63 L314.96,213.26 L315.96,212.88 L316.97,212.48 L317.96,212.08 L318.96,211.67 L319.95,211.24 L320.94,210.80 L321.92,210.36 L322.90,209.90 L323.88,209.44 L324.85,208.97 L325.82,208.48 L326.79,208.00 L327.76,207.50 L328.72,207.00 L329.69,206.49 L330.65,205.98 L331.60,205.46 L332.56,204.94 L333.52,204.41 L334.47,203.88 L335.42,203.35 L336.38,202.81 L337.33,202.27 L338.28,201.73 L339.23,201.19 L340.18,200.65 L341.14,200.11 L342.09,199.56 L343.04,199.02 L343.99,198.48 L344.95,197.95 L345.91,197.41 L346.86,196.88 L347.82,196.35 L348.78,195.82 L349.74,195.30 L350.71,194.78 L351.68,194.27 L352.65,193.77 L353.62,193.27 L354.59,192.77 L355.57,192.29 L356.55,191.81 L357.54,191.34 L358.53,190.88 L359.52,190.43 L360.51,189.99 L361.51,189.55 L362.51,189.13 L363.51,188.72 L364.52,188.33 L365.53,187.95 L366.54,187.58 L367.55,187.22 L368.56,186.88 L369.58,186.55 L370.59,186.24 L371.61,185.95 L372.63,185.67 L373.65,185.42 L374.67,185.18 L375.70,184.95 L376.72,184.75 L377.74,184.57 L378.76,184.41 L379.79,184.27 L380.81,184.16 L381.83,184.06 L382.85,183.99 L383.87,183.94 L384.89,183.92 L385.91,183.92 L386.93,183.95 L387.95,184.00 L388.96,184.08 L389.98,184.19 L390.99,184.32 L392.00,184.49 L393.01,184.67 L394.01,184.89 L395.02,185.13 L396.02,185.39 L397.02,185.67 L398.02,185.98 L399.02,186.31 L400.02,186.65 L401.02,187.01 L402.02,187.39 L403.01,187.79 L404.01,188.20 L405.00,188.62 L406.00,189.06 L406.99,189.51 L407.98,189.97 L408.98,190.44 L409.97,190.92 L410.96,191.40 L411.95,191.89 L412.94,192.39 L413.94,192.89 L414.93,193.40 L415.92,193.91 L416.92,194.41 L417.91,194.92 L418.91,195.43 L419.90,195.94 L420.90,196.44 L421.90,196.94 L422.89,197.43 L423.89,197.92 L424.89,198.40 L425.89,198.87 L426.90,199.34 L427.90,199.79 L428.91,200.23 L429.92,200.66 L430.92,201.07 L431.94,201.47 L432.95,201.86 L433.96,202.23 L434.98,202.58 L436.00,202.92 L437.02,203.24 L438.05,203.55 L439.07,203.84 L440.10,204.11 L441.13,204.37 L442.17,204.61 L443.21,204.84 L444.25,205.04 L445.29,205.23 L446.34,205.41 L447.39,205.56 L448.45,205.70 L449.51,205.83 L450.57,205.93 L451.64,206.02 L452.71,206.09 L453.79,206.15 L454.87,206.18 L455.95,206.20 L457.04,206.20 L458.13,206.18 L459.23,206.14 L460.34,206.09 L461.44,206.02 L462.56,205.93 L463.68,205.82 L464.48,211.36 L463.91,212.25 L463.33,213.12 L462.72,213.96 L462.10,214.77 L461.45,215.55 L460.79,216.31 L460.10,217.04 L459.40,217.74 L458.68,218.41 L457.95,219.07 L457.19,219.69 L456.42,220.30 L455.64,220.88 L454.84,221.44 L454.03,221.98 L453.20,222.50 L452.36,223.00 L451.51,223.48 L450.65,223.95 L449.77,224.39 L448.89,224.82 L447.99,225.23 L447.08,225.63 L446.17,226.01 L445.24,226.38 L444.31,226.74 L443.37,227.08 L442.42,227.41 L441.47,227.73 L440.51,228.04 L439.55,228.35 L438.58,228.64 L437.60,228.92 L436.63,229.20 L435.65,229.47 L434.66,229.73 L433.68,229.99 L432.69,230.25 L431.71,230.50 L430.72,230.74 L429.73,230.99 L428.74,231.23 L427.75,231.47 L426.77,231.70 L425.78,231.93 L424.79,232.16 L423.80,232.39 L422.81,232.61 L421.82,232.84 L420.83,233.06 L419.83,233.27 L418.84,233.49 L417.85,233.70 L416.86,233.91 L415.87,234.11 L414.88,234.32 L413.88,234.52 L412.89,234.72 L411.90,234.92 L410.91,235.12 L409.91,235.32 L408.92,235.51 L407.93,235.70 L406.93,235.89 L405.94,236.08 L404.95,236.27 L403.95,236.45 L402.96,236.64 L401.96,236.82 L400.97,237.00 L399.98,237.18 L398.98,237.36 L397.99,237.54 L397.00,237.72 L396.00,237.90 L395.01,238.07 L394.01,238.25 L393.02,238.42 L392.03,238.59 L391.03,238.77 L390.04,238.94 L389.05,239.11 L388.05,239.28 L387.06,239.46 L386.07,239.63 L385.07,239.80 L384.08,239.97 L383.09,240.14 L382.09,240.31 L381.10,240.48 L380.11,240.65 L379.12,240.82 L378.13,241.00 L377.13,241.17 L376.14,241.34 L375.15,241.51 L374.16,241.69 L373.17,241.86 L372.18,242.03 L371.19,242.21 L370.20,242.38 L369.21,242.56 L368.22,242.74 L367.23,242.92 L366.24,243.10 L365.26,243.28 L364.27,243.46 L363.28,243.64 L362.29,243.83 L361.31,244.01 L360.32,244.20 L359.34,244.39 L358.35,244.58 L357.37,244.78 L356.39,244.98 L355.41,245.18 L354.43,245.38 L353.45,245.59 L352.47,245.80 L351.49,246.01 L350.52,246.23 L349.54,246.46 L348.57,246.68 L347.60,246.91 L346.63,247.15 L345.66,247.39 L344.70,247.64 L343.73,247.89 L342.77,248.15 L341.81,248.41 L340.85,248.68 L339.90,248.96 L338.94,249.24 L337.99,249.53 L337.04,249.83 L336.10,250.13 L335.15,250.44 L334.21,250.76 L333.27,251.08 L332.34,251.42 L331.40,251.76 L330.47,252.11 L329.55,252.47 L328.62,252.84 L327.70,253.21 L326.78,253.60 L325.87,253.99 L324.96,254.40 L324.05,254.81 L323.14,255.24 L322.24,255.67 L321.34,256.12 L320.45,256.57 L319.56,257.04 L318.67,257.52 L317.79,258.01 L316.91,258.51 L316.04,259.02 L315.17,259.55 L314.30,260.08 L313.44,260.63 L312.58,261.19 L311.73,261.77 L310.88,262.36 L310.04,262.95 L309.20,263.56 L308.36,264.18 L307.53,264.81 L306.70,265.45 L305.87,266.10 L305.05,266.75 L304.22,267.40 L303.40,268.07 L302.59,268.73 L301.77,269.40 L300.95,270.07 L300.14,270.74 L299.32,271.41 L298.51,272.08 L297.70,272.75 L296.88,273.41 L296.07,274.08 L295.26,274.73 L294.44,275.39 L293.62,276.03 L292.81,276.67 L291.99,277.30 L291.16,277.92 L290.34,278.53 L289.51,279.13 L288.69,279.72 L287.85,280.30 L287.02,280.86 L286.18,281.41 L285.34,281.94 L284.49,282.45 L283.64,282.95 L282.78,283.43 L281.92,283.89 L281.06,284.33 L280.18,284.75 L279.31,285.15 L278.42,285.52 L277.53,285.87 L276.64,286.20 L275.74,286.50 L274.83,286.78 L273.92,287.03 L273.00,287.25 L272.08,287.45 L271.15,287.62 L270.23,287.76 L269.30,287.88 L268.36,287.96 L267.43,288.02 L266.50,288.05 L265.56,288.06 L264.62,288.03 L263.69,287.97 L262.76,287.88 L261.82,287.76 L260.89,287.61 L259.96,287.43 L259.04,287.22 L258.11,286.98 L257.19,286.70 L256.28,286.40 L255.36,286.08 L254.45,285.73 L253.54,285.35 L252.63,284.96 L251.72,284.55 L250.81,284.12 L249.90,283.68 L248.99,283.22 L248.08,282.76 L247.17,282.28 L246.27,281.79 L245.36,281.30 L244.44,280.81 L243.53,280.31 L242.62,279.81 L241.70,279.31 L240.78,278.81 L239.86,278.32 L238.94,277.84 L238.01,277.36 L237.08,276.89 L236.15,276.44 L235.21,275.99 L234.27,275.56 L233.33,275.13 L232.38,274.72 L231.43,274.32 L230.48,273.94 L229.52,273.56 L228.56,273.19 L227.60,272.84 L226.64,272.50 L225.67,272.17 L224.71,271.85 L223.74,271.55 L222.76,271.25 L221.79,270.97 L220.81,270.70 L219.84,270.45 L218.86,270.20 L217.88,269.97 L216.89,269.75 L215.91,269.54 L214.93,269.34 L213.94,269.16 L212.96,268.99 L211.97,268.83 L210.98,268.68 L209.99,268.55 L209.00,268.43 L208.01,268.32 L207.02,268.23 L206.03,268.14 L205.04,268.07 L204.05,268.02 L203.06,267.97 L202.07,267.94 L201.08,267.93 L200.09,267.92 L199.11,267.93 L198.12,267.95 L197.13,267.99 L196.15,268.04 L195.16,268.10 L194.18,268.17 L193.20,268.26 L192.21,268.37 L191.24,268.48 L190.26,268.61 L189.28,268.76 L188.31,268.91 L187.33,269.08 L186.36,269.27 L185.40,269.47 L184.43,269.68 L183.47,269.91 L182.50,270.15 L181.55,270.40 L180.59,270.67 L179.64,270.96 L178.69,271.25 L177.74,271.57 L176.79,271.89 L175.85,272.23 L174.92,272.59 L173.98,272.96 L173.05,273.34 L172.13,273.73 L171.21,274.14 L170.29,274.56 L169.38,275.00 L168.48,275.44 L167.58,275.91 L166.68,276.38 L165.79,276.86 L164.91,277.36 L164.03,277.87 L163.16,278.39 L162.30,278.93 L161.44,279.47 L160.59,280.03 L159.75,280.60 L158.91,281.18 L158.09,281.77 L157.27,282.38 L156.46,282.99 L155.65,283.61 L154.86,284.25 L154.07,284.89 L153.30,285.55 L152.53,286.21 L151.77,286.89 L151.03,287.57 L150.29,288.27 L149.56,288.97 L148.84,289.69 L148.14,290.41 L147.44,291.14 L146.76,291.88 L146.08,292.63 L145.42,293.39 L144.77,294.16 L144.13,294.94 L143.51,295.72 L142.89,296.51 L142.29,297.31 L141.70,298.12 L141.12,298.94 L140.55,299.76 L140.00,300.59 L139.45,301.42 L138.91,302.26 L138.39,303.11 L137.87,303.96 L137.35,304.82 L136.85,305.68 L136.35,306.55 L135.86,307.42 L135.37,308.29 L134.89,309.17 L134.42,310.05 L133.94,310.94 L133.47,311.82 L133.01,312.71 L132.55,313.60 L132.09,314.50 L131.63,315.39 L131.17,316.28 L130.71,317.18 L130.25,318.08 L129.79,318.97 L129.34,319.87 L128.87,320.76 L128.41,321.66 L127.94,322.55 L127.48,323.44 L127.00,324.33 L126.53,325.22 L126.04,326.10 L125.56,326.98 L125.06,327.86 L124.56,328.74 L124.06,329.61 L123.54,330.48 L123.02,331.34 L122.49,332.20 L121.95,333.05 L121.40,333.90 L120.84,334.74 L120.27,335.58 L119.69,336.41 L119.10,337.23" fill="none" stroke="#ff0000" stroke-width="1.5" stroke-linejoin="round"/>
<line x1="383.6" y1="214.9" x2="383.6" y2="191" stroke="#999" stroke-width="1.2"/>
<path d="M383.6,186.6 L381.1,192.2 L386.1,192.2 Z" fill="#111"/>
<text x="391.6" y="217.9" font-size="14" text-anchor="start" fill="#111" stroke="#111" textLength="43.3" lengthAdjust="spacingAndGlyphs"  style="">40 mV</text>
<line x1="264.5" y1="262.5" x2="264.5" y2="282" stroke="#999" stroke-width="1.2"/>
<path d="M264.5,286.6 L262,281 L267,281 Z" fill="#111"/>
<text x="250" y="305.7" font-size="14" text-anchor="start" fill="#111" stroke="#111" textLength="52.5" lengthAdjust="spacingAndGlyphs"  style="">350 mV</text>
<path d="M568.6,22.6 H1013.0 V317.3" fill="none" stroke="#222" stroke-width="1.2"/>
<rect x="574.50" y="298.38" width="51.6" height="15.92" fill="#999999"/>
<rect x="638.07" y="287.48" width="51.6" height="26.82" fill="#999999"/>
<rect x="701.64" y="277.43" width="51.6" height="36.87" fill="#999999"/>
<rect x="765.21" y="270.40" width="51.6" height="43.90" fill="#999999"/>
<rect x="828.78" y="137.76" width="51.6" height="176.54" fill="#999999"/>
<rect x="892.35" y="57.82" width="51.6" height="256.48" fill="#999999"/>
<rect x="955.92" y="182.87" width="51.6" height="131.43" fill="#999999"/>
<path d="M600.30,296.9 V300.8 M594.30,296.9 H606.30 M594.30,300.8 H606.30" stroke="#1a1a1a" stroke-width="1.4" fill="none"/>
<path d="M663.87,284.8 V290.6 M657.87,284.8 H669.87 M657.87,290.6 H669.87" stroke="#1a1a1a" stroke-width="1.4" fill="none"/>
<path d="M727.44,274.3 V280.9 M721.44,274.3 H733.44 M721.44,280.9 H733.44" stroke="#1a1a1a" stroke-width="1.4" fill="none"/>
<path d="M791.01,267 V274.7 M785.01,267 H797.01 M785.01,274.7 H797.01" stroke="#1a1a1a" stroke-width="1.4" fill="none"/>
<path d="M854.58,83.3 V192.4 M848.58,83.3 H860.58 M848.58,192.4 H860.58" stroke="#1a1a1a" stroke-width="1.4" fill="none"/>
<path d="M918.15,28.5 V87.7 M912.15,28.5 H924.15 M912.15,87.7 H924.15" stroke="#1a1a1a" stroke-width="1.4" fill="none"/>
<path d="M981.72,140.8 V225.4 M975.72,140.8 H987.72 M975.72,225.4 H987.72" stroke="#1a1a1a" stroke-width="1.4" fill="none"/>
<line x1="568.6" y1="22.6" x2="568.6" y2="317.8" stroke="#777" stroke-width="2.4"/>
<line x1="560.7" y1="314.3" x2="1013.0" y2="314.3" stroke="#151515" stroke-width="1.5"/>
<text x="556.8" y="320.40" font-size="16" text-anchor="end" fill="#111" stroke="#111"  style="">0</text>
<line x1="564.3000000000001" y1="285.65" x2="568.6" y2="285.65" stroke="#222" stroke-width="1.2"/>
<line x1="561.6" y1="257.10" x2="568.6" y2="257.10" stroke="#222" stroke-width="1.2"/>
<text x="556.8" y="263.30" font-size="16" text-anchor="end" fill="#111" stroke="#111"  style="">1</text>
<line x1="564.3000000000001" y1="228.55" x2="568.6" y2="228.55" stroke="#222" stroke-width="1.2"/>
<line x1="561.6" y1="200.00" x2="568.6" y2="200.00" stroke="#222" stroke-width="1.2"/>
<text x="556.8" y="206.20" font-size="16" text-anchor="end" fill="#111" stroke="#111"  style="">2</text>
<line x1="564.3000000000001" y1="171.45" x2="568.6" y2="171.45" stroke="#222" stroke-width="1.2"/>
<line x1="561.6" y1="142.90" x2="568.6" y2="142.90" stroke="#222" stroke-width="1.2"/>
<text x="556.8" y="149.10" font-size="16" text-anchor="end" fill="#111" stroke="#111"  style="">3</text>
<line x1="564.3000000000001" y1="114.35" x2="568.6" y2="114.35" stroke="#222" stroke-width="1.2"/>
<line x1="561.6" y1="85.80" x2="568.6" y2="85.80" stroke="#222" stroke-width="1.2"/>
<text x="556.8" y="92.00" font-size="16" text-anchor="end" fill="#111" stroke="#111"  style="">4</text>
<line x1="564.3000000000001" y1="57.25" x2="568.6" y2="57.25" stroke="#222" stroke-width="1.2"/>
<line x1="561.6" y1="28.70" x2="568.6" y2="28.70" stroke="#222" stroke-width="1.2"/>
<text x="556.8" y="34.90" font-size="16" text-anchor="end" fill="#111" stroke="#111"  style="">5</text>
<line x1="600.30" y1="314.3" x2="600.30" y2="319.90000000000003" stroke="#222" stroke-width="1.6"/>
<line x1="632.08" y1="314.3" x2="632.08" y2="317.1" stroke="#222" stroke-width="1.4"/>
<line x1="663.87" y1="314.3" x2="663.87" y2="319.90000000000003" stroke="#222" stroke-width="1.6"/>
<line x1="695.65" y1="314.3" x2="695.65" y2="317.1" stroke="#222" stroke-width="1.4"/>
<line x1="727.44" y1="314.3" x2="727.44" y2="319.90000000000003" stroke="#222" stroke-width="1.6"/>
<line x1="759.22" y1="314.3" x2="759.22" y2="317.1" stroke="#222" stroke-width="1.4"/>
<line x1="791.01" y1="314.3" x2="791.01" y2="319.90000000000003" stroke="#222" stroke-width="1.6"/>
<line x1="822.79" y1="314.3" x2="822.79" y2="317.1" stroke="#222" stroke-width="1.4"/>
<line x1="854.58" y1="314.3" x2="854.58" y2="319.90000000000003" stroke="#222" stroke-width="1.6"/>
<line x1="886.36" y1="314.3" x2="886.36" y2="317.1" stroke="#222" stroke-width="1.4"/>
<line x1="918.15" y1="314.3" x2="918.15" y2="319.90000000000003" stroke="#222" stroke-width="1.6"/>
<line x1="949.93" y1="314.3" x2="949.93" y2="317.1" stroke="#222" stroke-width="1.4"/>
<line x1="981.72" y1="314.3" x2="981.72" y2="319.90000000000003" stroke="#222" stroke-width="1.6"/>
<line x1="1013.50" y1="314.3" x2="1013.50" y2="317.1" stroke="#222" stroke-width="1.4"/>
<line x1="568.51" y1="314.3" x2="568.51" y2="317.1" stroke="#222" stroke-width="1.4"/>
<text transform="translate(602.40,330.7) scale(1.098,1) rotate(-35.9)" font-size="13.8" text-anchor="end" fill="#111" stroke="#111">Au</text>
<text transform="translate(669.37,326.9) scale(1.098,1) rotate(-35.9)" font-size="13.8" text-anchor="end" fill="#111" stroke="#111">Au/C(RGD)<tspan font-size="8.5" dy="6" dx="-1.2">4</tspan></text>
<text transform="translate(727.74,331.8) scale(1.098,1) rotate(-35.9)" font-size="13.8" text-anchor="end" fill="#111" stroke="#111">Au/RGD-MAP-C</text>
<text transform="translate(792.51,327.6) scale(1.098,1) rotate(-35.9)" font-size="13.8" text-anchor="end" fill="#111" stroke="#111">Au/PLL</text>
<text transform="translate(856.08,333.1) scale(1.098,1) rotate(-35.9)" font-size="13.8" text-anchor="end" fill="#111" stroke="#111">Au/(RGD)<tspan font-size="8.5" dy="5.5" dx="0.1">4</tspan><tspan dy="-5.5">/Cell</tspan></text>
<text transform="translate(921.65,330.7) scale(1.098,1) rotate(-35.9)" font-size="13.8" text-anchor="end" fill="#111" stroke="#111">Au/RGD-MAP-C/Cell</text>
<text transform="translate(983.02,333.0) scale(1.098,1) rotate(-35.9)" font-size="13.8" text-anchor="end" fill="#111" stroke="#111">Au/PLL/Cell</text>
<text transform="translate(531.6,162.2) rotate(-90)" font-size="17" text-anchor="middle" fill="#111" stroke="#111" textLength="48.5" lengthAdjust="spacingAndGlyphs"><tspan font-style="italic">I</tspan><tspan font-size="10.5" dy="5">pc</tspan><tspan dy="-5"> / μA</tspan></text>
<text x="509.6" y="39.7" font-size="18" text-anchor="start" fill="#111" stroke="#111" textLength="27.8" lengthAdjust="spacingAndGlyphs"  style="">(iii)</text>
</svg>
</body></html>
